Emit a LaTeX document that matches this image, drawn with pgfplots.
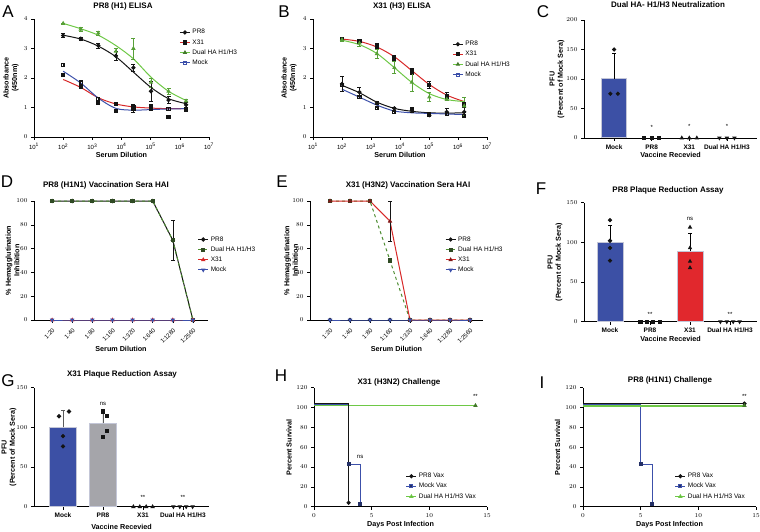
\documentclass[border=0pt]{standalone}
\usepackage{fontspec}
\setmainfont{Liberation Sans}
\usepackage{pgfplots}
\pgfplotsset{compat=1.18}
\usepackage{pgfplotstable}

\definecolor{pblack}{RGB}{20,20,20}
\definecolor{pred}{RGB}{215,40,40}
\definecolor{pgreen}{RGB}{110,200,70}
\definecolor{pblue}{RGB}{60,80,170}
\definecolor{barblue}{RGB}{60,80,165}
\definecolor{barred}{RGB}{225,40,45}
\definecolor{bargrey}{RGB}{165,165,170}
\definecolor{barborder}{RGB}{195,198,215}

\newcommand{\tf}{\fontsize{8}{9}\selectfont\bfseries}
\newcommand{\lf}{\fontsize{17}{18}\selectfont}
\newcommand{\labf}{\fontsize{7.2}{8.4}\selectfont\bfseries}

\pgfplotsset{
 legend image code/.code={\draw[mark repeat=2,mark phase=2,#1] plot coordinates {(0pt,0pt) (5pt,0pt) (10pt,0pt)};},
 prism/.style={
  scale only axis, axis lines*=left, clip=false,
  axis line style={line width=0.8pt, black},
  tick align=outside, major tick length=3pt, minor tick length=1.6pt,
  tick style={black, line width=0.6pt},
  tick label style={font=\fontsize{6}{7}\selectfont},
  legend style={draw=none, fill=none, font=\fontsize{6.5}{7.5}\selectfont, legend cell align=left, inner sep=0pt},
  every axis plot/.append style={line width=1pt},
  mark size=1.6pt,
  error bars/error bar style={line width=0.6pt},
  error bars/error mark options={rotate=90, mark size=2pt, line width=0.6pt},
 },
 ylab/.style={every axis y label/.style={at={([xshift=-#1]axis description cs:0,0.5)}, rotate=90, anchor=center, align=center, font=\labf}},
 xlab/.style={every axis x label/.style={at={([yshift=-#1]axis description cs:0.5,0)}, anchor=center, font=\labf}},
 catax/.style={
  xtick={0,1,2,3}, xticklabels={Mock,PR8,X31,Dual HA H1/H3},
  x tick label style={font=\fontsize{6.5}{7}\selectfont\bfseries},
  xlabel={Vaccine Recevied}, ylabel={PFU\\(Percent of Mock Sera)},
 },
 hai/.style={
  ymin=0, ymax=100, ytick={0,20,...,100}, xtick={0,...,7},
  xticklabels={1:20,1:40,1:80,1:160,1:320,1:640,1:1280,1:2560},
  x tick label style={rotate=45, anchor=north east},
  xlabel={Serum Dilution}, ylabel={\% Hemagglutination\\Inhibition},
 },
 surv/.style={
  xmin=0, xmax=15, ymin=0, ymax=120, xtick={0,5,10,15}, ytick={0,20,...,120},
  x tick label style={font=\fontsize{6}{7}\selectfont\bfseries},
  xlabel={Days Post Infection}, ylabel={Percent Survival},
 },
}

% ---------- ELISA data (dilution, mean, sem)
\pgfplotstableread{
x y e
100 3.44 0.07
400 3.33 0.06
1600 3.10 0.08
6400 2.75 0.15
25600 2.35 0.13
102400 1.55 0.35
409600 1.25 0.12
1638400 1.09 0.08
}\ApPR
\pgfplotstableread{
x y e
100 3.85 0.02
400 3.65 0.06
1600 3.52 0.07
6400 2.90 0.12
25600 3.00 0.35
102400 1.85 0.15
409600 1.55 0.10
1638400 1.22 0.05
}\ApDU
\pgfplotstableread{
x y e
100 2.10 0.05
400 1.70 0.05
1600 1.17 0.03
6400 1.13 0.03
25600 1.00 0.10
102400 0.97 0.05
409600 0.68 0.00
1638400 0.93 0.03
}\ApXT
\pgfplotstableread{
x y e
100 2.45 0.05
400 1.85 0.05
1600 1.30 0.05
6400 0.88 0.02
25600 0.95 0.12
102400 1.00 0.10
409600 0.96 0.05
1638400 0.95 0.03
}\ApMO
\pgfplotstableread{
x y e
100 3.33 0.05
400 3.25 0.07
1600 3.10 0.08
6400 2.68 0.08
25600 2.22 0.10
102400 1.77 0.12
409600 1.40 0.10
1638400 1.10 0.25
}\BpXT
\pgfplotstableread{
x y e
100 3.30 0.05
400 3.18 0.10
1600 2.82 0.15
6400 2.35 0.20
25600 1.85 0.30
102400 1.35 0.15
409600 1.28 0.05
1638400 1.05 0.30
}\BpDU
\pgfplotstableread{
x y e
100 1.80 0.25
400 1.52 0.15
1600 1.15 0.05
6400 0.97 0.05
25600 0.90 0.05
102400 0.74 0.03
409600 0.85 0.12
1638400 0.85 0.15
}\BpPR
\pgfplotstableread{
x y e
100 1.77 0.05
400 1.35 0.05
1600 0.97 0.03
6400 0.85 0.03
25600 0.95 0.03
102400 0.77 0.03
409600 0.78 0.05
1638400 0.72 0.05
}\BpMO

\begin{document}
\begin{tikzpicture}

% ================= A
\begin{axis}[prism, ylab=23pt, xlab=18pt, xmode=log, log basis x=10, xmin=10, xmax=1e7, ymin=0, ymax=4, ytick={0,1,2,3,4},
  xtick={1e1,1e2,1e3,1e4,1e5,1e6,1e7},
  xticklabels={10\textsuperscript{1},10\textsuperscript{2},10\textsuperscript{3},10\textsuperscript{4},10\textsuperscript{5},10\textsuperscript{6},10\textsuperscript{7}},
  xlabel={Serum Dilution}, ylabel={Absorbance\\(450nm)},
  at={(34pt,394pt)}, anchor=south west, width=175pt, height=118pt,
  legend style={at={(0.83,0.93)}, anchor=north west}]
\addplot[pgreen, smooth, no marks, forget plot] coordinates {(100,3.85)(400,3.67)(1600,3.45)(6400,3.1)(25600,2.65)(102400,2.03)(409600,1.55)(1638400,1.24)};
\addplot[pblack, smooth, no marks, forget plot] coordinates {(100,3.45)(400,3.32)(1600,3.08)(6400,2.72)(25600,2.2)(102400,1.68)(409600,1.3)(1638400,1.13)};
\addplot[pred, smooth, no marks, forget plot] coordinates {(100,1.95)(400,1.68)(1600,1.33)(6400,1.12)(25600,1.02)(102400,0.98)(409600,0.96)(1638400,0.96)};
\addplot[pblue, smooth, no marks, forget plot] coordinates {(100,2.23)(400,1.83)(1600,1.32)(6400,0.97)(25600,0.91)(102400,0.93)(409600,0.95)(1638400,0.96)};
\addplot[pgreen!80!black, only marks, mark=triangle*, forget plot, error bars/.cd, y dir=both, y explicit] table[x=x,y=y,y error=e]{\ApDU};
\addplot[pblack, only marks, mark=*, forget plot, error bars/.cd, y dir=both, y explicit] table[x=x,y=y,y error=e]{\ApPR};
\addplot[pblack, only marks, mark=square*, forget plot, error bars/.cd, y dir=both, y explicit] table[x=x,y=y,y error=e]{\ApXT};
\addplot[pblack, only marks, mark=square, mark options={fill=white}, forget plot, error bars/.cd, y dir=both, y explicit] table[x=x,y=y,y error=e]{\ApMO};
\addlegendimage{pblack, mark=*}\addlegendentry{PR8}
\addlegendimage{pred, mark=square*, mark options={fill=pblack, draw=pblack}}\addlegendentry{X31}
\addlegendimage{pgreen, mark=triangle*, mark options={fill=pgreen!60!black, draw=pgreen!60!black}}\addlegendentry{Dual HA H1/H3}
\addlegendimage{pblue, mark=square, mark options={fill=white}}\addlegendentry{Mock}
\end{axis}

% ================= B
\begin{axis}[prism, ylab=24pt, xlab=18pt, xmode=log, log basis x=10, xmin=10, xmax=1e7, ymin=0, ymax=4, ytick={0,1,2,3,4},
  xtick={1e1,1e2,1e3,1e4,1e5,1e6,1e7},
  xticklabels={10\textsuperscript{1},10\textsuperscript{2},10\textsuperscript{3},10\textsuperscript{4},10\textsuperscript{5},10\textsuperscript{6},10\textsuperscript{7}},
  xlabel={Serum Dilution}, ylabel={Absorbance\\(450nm)},
  at={(313pt,394pt)}, anchor=south west, width=174pt, height=118pt,
  legend style={at={(0.80,0.83)}, anchor=north west}]
\addplot[pred, smooth, no marks, forget plot] coordinates {(100,3.32)(400,3.24)(1600,3.05)(6400,2.72)(25600,2.25)(102400,1.78)(409600,1.42)(1638400,1.2)};
\addplot[pgreen, smooth, no marks, forget plot] coordinates {(100,3.28)(400,3.13)(1600,2.83)(6400,2.35)(25600,1.85)(102400,1.47)(409600,1.27)(1638400,1.2)};
\addplot[pblack, smooth, no marks, forget plot] coordinates {(100,1.75)(400,1.5)(1600,1.18)(6400,0.97)(25600,0.87)(102400,0.82)(409600,0.81)(1638400,0.82)};
\addplot[pblue, smooth, no marks, forget plot] coordinates {(100,1.62)(400,1.35)(1600,1.08)(6400,0.88)(25600,0.82)(102400,0.8)(409600,0.78)(1638400,0.76)};
\addplot[pblack, only marks, mark=square*, forget plot, error bars/.cd, y dir=both, y explicit] table[x=x,y=y,y error=e]{\BpXT};
\addplot[pgreen!80!black, only marks, mark=triangle*, forget plot, error bars/.cd, y dir=both, y explicit] table[x=x,y=y,y error=e]{\BpDU};
\addplot[pblack, only marks, mark=*, forget plot, error bars/.cd, y dir=both, y explicit] table[x=x,y=y,y error=e]{\BpPR};
\addplot[pblack, only marks, mark=square, mark options={fill=white}, forget plot, error bars/.cd, y dir=both, y explicit] table[x=x,y=y,y error=e]{\BpMO};
\addlegendimage{pblack, mark=*}\addlegendentry{PR8}
\addlegendimage{pred, mark=square*, mark options={fill=pblack, draw=pblack}}\addlegendentry{X31}
\addlegendimage{pgreen, mark=triangle*, mark options={fill=pgreen!60!black, draw=pgreen!60!black}}\addlegendentry{Dual HA H1/H3}
\addlegendimage{pblue, mark=square, mark options={fill=white}}\addlegendentry{Mock}
\end{axis}

% ================= C
\begin{axis}[prism, catax, ylab=27pt, xlab=17pt, at={(584pt,393pt)}, anchor=south west, width=173pt, height=118pt,
  xmin=-0.8, xmax=3.8, ymin=0, ymax=200, ytick={0,50,...,200}]
\addplot[ybar, bar width=25pt, fill=barblue, draw=barborder, line width=1pt,
  error bars/.cd, y dir=plus, y explicit, error bar style={black, line width=0.7pt}] coordinates {(0,100) +- (0,43)};
\addplot[only marks, mark=*, pblack] coordinates {(0,150)(-0.1,75)(0.1,75)};
\addplot[only marks, mark=square*, pblack] coordinates {(0.8,0)(1,0)(1.2,0)};
\addplot[only marks, mark=triangle*, pblack] coordinates {(1.8,0)(2,0)(2.2,0)};
\addplot[only marks, mark=triangle*, mark options={rotate=180}, pblack] coordinates {(2.8,0)(3,0)(3.2,0)};
\node[font=\fontsize{6}{6}\selectfont] at (axis cs:1,18) {*};
\node[font=\fontsize{6}{6}\selectfont] at (axis cs:2,19) {*};
\node[font=\fontsize{6}{6}\selectfont] at (axis cs:3,19) {*};
\end{axis}

% ================= D
\begin{axis}[prism, hai, ylab=21.5pt, xlab=29pt, at={(34pt,211pt)}, anchor=south west, width=174pt, height=119pt,
  xmin=-0.9, xmax=7.75, legend style={at={(0.94,0.72)}, anchor=north west}]
\addplot[pblack, mark=*, error bars/.cd, y dir=both, y explicit] coordinates {(0,100)(1,100)(2,100)(3,100)(4,100)(5,100)(6,67) +- (0,17) (7,0)};
\addplot[pgreen!70!black, dashed, mark=square*, mark options={solid, fill=pblack!70!pgreen, draw=pblack!70!pgreen}] coordinates {(0,100)(1,100)(2,100)(3,100)(4,100)(5,100)(6,67)(7,0)};
\addplot[pred, mark=triangle*] coordinates {(0,0)(1,0)(2,0)(3,0)(4,0)(5,0)(6,0)(7,0)};
\addplot[pblue, mark=triangle*, mark options={rotate=180}] coordinates {(0,0)(1,0)(2,0)(3,0)(4,0)(5,0)(6,0)(7,0)};
\legend{PR8, Dual HA H1/H3, X31, Mock}
\end{axis}

% ================= E
\begin{axis}[prism, hai, ylab=19pt, xlab=29pt, at={(310pt,211pt)}, anchor=south west, width=173pt, height=119pt,
  xmin=-1, xmax=7.65, legend style={at={(0.78,0.72)}, anchor=north west}]
\addplot[pblack, mark=*] coordinates {(0,0)(1,0)(2,0)(3,0)(4,0)(5,0)(6,0)(7,0)};
\addplot[pgreen!70!black, dashed, mark=square*, mark options={solid, fill=pblack!70!pgreen, draw=pblack!70!pgreen}] coordinates {(0,100)(1,100)(2,100)(3,50)(4,0)(5,0)(6,0)(7,0)};
\addplot[pred, mark=triangle*, mark options={fill=pred!60!black, draw=pred!60!black}, error bars/.cd, y dir=both, y explicit, error bar style={pblack}] coordinates {(0,100)(1,100)(2,100)(3,83) +- (0,17) (4,0)(5,0)(6,0)(7,0)};
\addplot[pblue, mark=triangle*, mark options={rotate=180}] coordinates {(0,0)(1,0)(2,0)(3,0)(4,0)(5,0)(6,0)(7,0)};
\legend{PR8, Dual HA H1/H3, X31, Mock}
\end{axis}

% ================= F
\begin{axis}[prism, catax, ylab=29pt, xlab=17.6pt, at={(584pt,209.3pt)}, anchor=south west, width=173pt, height=119pt,
  xmin=-0.65, xmax=3.675, ymin=0, ymax=150, ytick={0,50,...,150}]
\addplot[ybar, bar width=26pt, fill=barblue, draw=barborder, line width=1pt,
  error bars/.cd, y dir=plus, y explicit, error bar style={black, line width=0.7pt}] coordinates {(0,100) +- (0,21)};
\addplot[ybar, bar width=26pt, fill=barred, draw=barborder, line width=1pt,
  error bars/.cd, y dir=plus, y explicit, error bar style={black, line width=0.7pt}] coordinates {(2,89) +- (0,23)};
\addplot[only marks, mark=*, pblack] coordinates {(0,128)(0,102)(0,93)(0,77)};
\addplot[only marks, mark=triangle*, pblack] coordinates {(2,119)(2,93)(2,76)(2,68)};
\addplot[only marks, mark=square*, pblack] coordinates {(0.76,0)(0.92,0)(1.08,0)(1.24,0)};
\addplot[only marks, mark=triangle*, mark options={rotate=180}, pblack] coordinates {(2.76,0)(2.92,0)(3.08,0)(3.24,0)};
\node[font=\fontsize{6}{6}\selectfont] at (axis cs:1,9) {**};
\node[font=\fontsize{6}{6}\selectfont] at (axis cs:3,9) {**};
\node[font=\fontsize{6}{6}\selectfont] at (axis cs:2,130) {ns};
\end{axis}

% ================= G
\begin{axis}[prism, catax, ylab=25pt, xlab=20pt, at={(34pt,24.3pt)}, anchor=south west, width=175pt, height=119pt,
  xmin=-0.725, xmax=3.65, ymin=0, ymax=150, ytick={0,50,...,150}]
\addplot[ybar, bar width=27pt, fill=barblue, draw=barborder, line width=1pt,
  error bars/.cd, y dir=plus, y explicit, error bar style={pblack!70, line width=0.7pt}] coordinates {(0,100) +- (0,21)};
\addplot[ybar, bar width=27pt, fill=bargrey, draw=barborder, line width=1pt,
  error bars/.cd, y dir=plus, y explicit, error bar style={pblack!70, line width=0.7pt}] coordinates {(1,105) +- (0,15)};
\addplot[only marks, mark=*, pblack] coordinates {(0.15,120)(-0.1,114)(0,89)(0,76)};
\addplot[only marks, mark=square*, pblack] coordinates {(1,120)(1.1,114)(1.1,95)(1,88)};
\addplot[only marks, mark=triangle*, pblack] coordinates {(1.76,0)(1.92,0)(2.08,0)(2.24,0)};
\addplot[only marks, mark=triangle*, mark options={rotate=180}, pblack] coordinates {(2.76,0)(2.92,0)(3.08,0)(3.24,0)};
\node[font=\fontsize{6}{6}\selectfont] at (axis cs:2,12) {**};
\node[font=\fontsize{6}{6}\selectfont] at (axis cs:3,12) {**};
\node[font=\fontsize{6}{6}\selectfont] at (axis cs:1,130) {ns};
\end{axis}

% ================= H
\begin{axis}[prism, surv, ylab=25pt, xlab=17.5pt, at={(314pt,24.3pt)}, anchor=south west, width=173pt, height=119pt,
  legend style={at={(0.53,0.30)}, anchor=north west}]
\addplot[pblue, forget plot] coordinates {(0,103)(3,103)(3,43)(4,43)(4,3)};
\addplot[pgreen, forget plot] coordinates {(0,102)(14,102)};
\addplot[pblack, line width=1.6pt, forget plot] coordinates {(0,104)(3,104)(3,4)};
\addplot[only marks, pblack, mark=*, forget plot] coordinates {(3,4)};
\addplot[only marks, pblue!60!black, mark=square*, forget plot] coordinates {(3,43)(4,3)};
\addplot[only marks, pgreen!60!black, mark=triangle*, forget plot] coordinates {(14,102)};
\addlegendimage{pblack, mark=*}\addlegendentry{PR8 Vax}
\addlegendimage{pblue, mark=square*, mark options={fill=pblue!60!black}}\addlegendentry{Mock Vax}
\addlegendimage{pgreen, mark=triangle*, mark options={fill=pgreen!60!black}}\addlegendentry{Dual HA H1/H3 Vax}
\node[font=\fontsize{6}{6}\selectfont] at (axis cs:14,111) {**};
\node[font=\fontsize{6}{6}\selectfont] at (axis cs:4,50) {ns};
\end{axis}

% ================= I
\begin{axis}[prism, surv, ylab=25.5pt, xlab=17.5pt, at={(583pt,24.3pt)}, anchor=south west, width=173pt, height=119pt,
  legend style={at={(0.53,0.30)}, anchor=north west}]
\addplot[pblue, forget plot] coordinates {(0,103)(5,103)(5,43)(6,43)(6,3)};
\addplot[pgreen, line width=2pt, forget plot] coordinates {(0,102)(14,102)};
\addplot[pblack, forget plot] coordinates {(0,104)(14,104)};
\addplot[only marks, pblack, mark=*, forget plot] coordinates {(14,104)};
\addplot[only marks, pblue!60!black, mark=square*, forget plot] coordinates {(5,43)(6,3)};
\addplot[only marks, pgreen!60!black, mark=triangle*, forget plot] coordinates {(14,102)};
\addlegendimage{pblack, mark=*}\addlegendentry{PR8 Vax}
\addlegendimage{pblue, mark=square*, mark options={fill=pblue!60!black}}\addlegendentry{Mock Vax}
\addlegendimage{pgreen, mark=triangle*, mark options={fill=pgreen!60!black}}\addlegendentry{Dual HA H1/H3 Vax}
\node[font=\fontsize{6}{6}\selectfont] at (axis cs:14,111) {**};
\end{axis}

% ================= titles
\node[font=\tf] at (123pt,525pt) {PR8 (H1) ELISA};
\node[font=\tf] at (402pt,525pt) {X31 (H3) ELISA};
\node[font=\tf] at (668pt,526pt) {Dual HA- H1/H3 Neutralization};
\node[font=\tf] at (106pt,346pt) {PR8 (H1N1) Vaccination Sera HAI};
\node[font=\tf] at (408pt,346pt) {X31 (H3N2) Vaccination Sera HAI};
\node[font=\tf] at (668pt,341pt) {PR8 Plaque Reduction Assay};
\node[font=\tf] at (122pt,157pt) {X31 Plaque Reduction Assay};
\node[font=\tf] at (399pt,149pt) {X31 (H3N2) Challenge};
\node[font=\tf] at (670pt,151pt) {PR8 (H1N1) Challenge};

% ================= panel letters
\node[font=\lf] at (8pt,519pt) {A};
\node[font=\lf] at (284pt,519pt) {B};
\node[font=\lf] at (543pt,519pt) {C};
\node[font=\lf] at (7pt,349pt) {D};
\node[font=\lf] at (282pt,349pt) {E};
\node[font=\lf] at (541pt,342pt) {F};
\node[font=\lf] at (8pt,150pt) {G};
\node[font=\lf] at (281pt,155pt) {H};
\node[font=\lf] at (542pt,148pt) {I};

\pgfresetboundingbox
\path[use as bounding box] (0,0) rectangle (760pt,531pt);
\end{tikzpicture}
\end{document}
